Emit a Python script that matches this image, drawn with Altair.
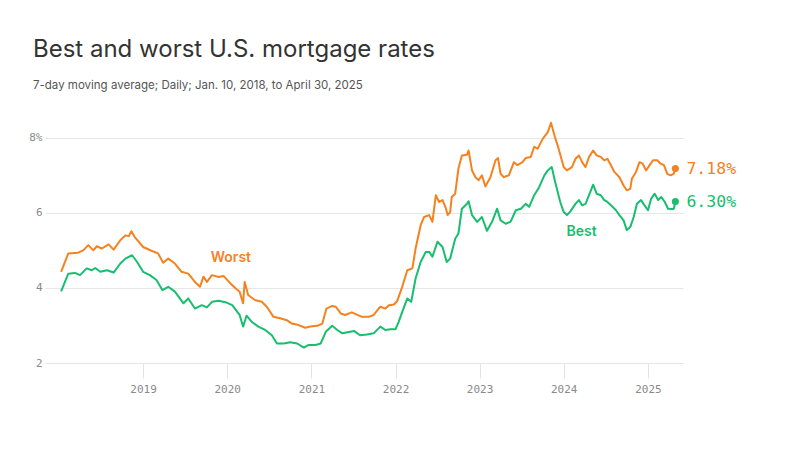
import altair as alt
import pandas as pd

# Worst (highest) 30-year mortgage rate, 7-day moving average, %
worst_dates = [
    "2018-01-10", "2018-02-10", "2018-03-25", "2018-04-16", "2018-05-08", "2018-05-30",
    "2018-06-14", "2018-07-06", "2018-08-04", "2018-08-26", "2018-09-24", "2018-10-16",
    "2018-10-31", "2018-11-11", "2018-11-25", "2019-01-01", "2019-02-06", "2019-03-07",
    "2019-03-29", "2019-04-20", "2019-05-19", "2019-06-17", "2019-07-16", "2019-08-14",
    "2019-09-05", "2019-09-20", "2019-10-05", "2019-10-27", "2019-11-25", "2019-12-16",
    "2020-01-15", "2020-02-06", "2020-02-24", "2020-03-10", "2020-03-17", "2020-04-01",
    "2020-04-30", "2020-05-30", "2020-06-21", "2020-07-20", "2020-08-18", "2020-09-16",
    "2020-10-08", "2020-11-06", "2020-12-05", "2020-12-27", "2021-01-26", "2021-02-17",
    "2021-03-07", "2021-04-01", "2021-04-16", "2021-05-08", "2021-05-27", "2021-06-25",
    "2021-07-17", "2021-08-08", "2021-09-06", "2021-09-28", "2021-10-27", "2021-11-18",
    "2021-12-03", "2021-12-25", "2022-01-08", "2022-01-30", "2022-02-21", "2022-03-15",
    "2022-03-29", "2022-04-20", "2022-05-05", "2022-05-27", "2022-06-10", "2022-06-25",
    "2022-07-09", "2022-07-24", "2022-08-08", "2022-08-15", "2022-08-26", "2022-09-02",
    "2022-09-17", "2022-10-01", "2022-10-16", "2022-11-07", "2022-11-14", "2022-11-29",
    "2022-12-14", "2022-12-28", "2023-01-11", "2023-01-26", "2023-02-17", "2023-03-11",
    "2023-03-22", "2023-04-02", "2023-04-16", "2023-05-08", "2023-05-30", "2023-06-14",
    "2023-07-06", "2023-07-20", "2023-08-11", "2023-08-26", "2023-09-10", "2023-10-02",
    "2023-10-24", "2023-11-07", "2023-11-22", "2023-12-10", "2024-01-01", "2024-01-15",
    "2024-02-06", "2024-02-21", "2024-03-07", "2024-03-21", "2024-04-05", "2024-04-20",
    "2024-05-08", "2024-05-23", "2024-06-10", "2024-06-25", "2024-07-09", "2024-07-24",
    "2024-08-08", "2024-08-30", "2024-09-17", "2024-10-01", "2024-10-16", "2024-10-23",
    "2024-11-10", "2024-11-25", "2024-12-09", "2024-12-24", "2025-01-08", "2025-01-23",
    "2025-02-10", "2025-02-25", "2025-03-11", "2025-03-26", "2025-04-09", "2025-04-23",
    "2025-04-30",
]
worst_values = [
    4.43, 4.92, 4.94, 5.00, 5.14, 5.00,
    5.11, 5.05, 5.16, 5.02, 5.27, 5.40,
    5.38, 5.51, 5.36, 5.09, 4.99, 4.92,
    4.67, 4.78, 4.65, 4.43, 4.38, 4.16,
    4.03, 4.30, 4.16, 4.34, 4.29, 4.32,
    4.12, 3.99, 3.90, 3.59, 4.16, 3.81,
    3.68, 3.63, 3.50, 3.23, 3.19, 3.14,
    3.05, 3.01, 2.94, 2.97, 2.99, 3.05,
    3.45, 3.52, 3.50, 3.32, 3.28, 3.35,
    3.29, 3.23, 3.23, 3.28, 3.50, 3.45,
    3.54, 3.56, 3.65, 4.03, 4.47, 4.52,
    5.05, 5.67, 5.89, 5.94, 5.76, 6.47,
    6.29, 6.34, 6.11, 5.94, 6.02, 6.42,
    6.51, 7.18, 7.53, 7.55, 7.66, 7.13,
    6.95, 6.87, 7.00, 6.70, 6.95, 7.40,
    7.46, 7.04, 6.95, 7.00, 7.35, 7.27,
    7.35, 7.46, 7.49, 7.76, 7.71, 7.97,
    8.15, 8.40, 8.06, 7.71, 7.22, 7.13,
    7.22, 7.44, 7.53, 7.35, 7.22, 7.49,
    7.66, 7.53, 7.49, 7.40, 7.44, 7.27,
    7.09, 6.95, 6.73, 6.60, 6.64, 6.91,
    7.09, 7.35, 7.31, 7.13, 7.27, 7.40,
    7.40, 7.31, 7.27, 7.04, 7.00, 7.04,
    7.18,
]

# Best (lowest) 30-year mortgage rate, 7-day moving average, %
best_dates = [
    "2018-01-10", "2018-02-10", "2018-03-11", "2018-04-02", "2018-05-01", "2018-05-23",
    "2018-06-07", "2018-06-29", "2018-07-28", "2018-08-26", "2018-09-24", "2018-10-16",
    "2018-11-14", "2018-12-06", "2019-01-01", "2019-01-30", "2019-02-28", "2019-03-26",
    "2019-04-20", "2019-05-19", "2019-06-25", "2019-07-16", "2019-08-14", "2019-09-13",
    "2019-10-05", "2019-10-27", "2019-11-25", "2019-12-24", "2020-01-23", "2020-02-14",
    "2020-02-24", "2020-03-10", "2020-03-25", "2020-04-16", "2020-05-15", "2020-06-14",
    "2020-07-13", "2020-08-04", "2020-09-02", "2020-10-01", "2020-10-31", "2020-11-29",
    "2020-12-20", "2021-01-19", "2021-02-10", "2021-03-04", "2021-04-01", "2021-04-23",
    "2021-05-15", "2021-06-06", "2021-07-06", "2021-07-31", "2021-08-30", "2021-09-28",
    "2021-10-27", "2021-11-18", "2021-12-10", "2022-01-01", "2022-01-15", "2022-01-30",
    "2022-02-21", "2022-03-10", "2022-03-29", "2022-04-20", "2022-05-12", "2022-05-27",
    "2022-06-10", "2022-07-02", "2022-07-24", "2022-08-11", "2022-08-26", "2022-09-17",
    "2022-10-01", "2022-10-16", "2022-11-07", "2022-11-14", "2022-11-29", "2022-12-21",
    "2023-01-11", "2023-02-02", "2023-02-24", "2023-03-18", "2023-04-02", "2023-04-24",
    "2023-05-15", "2023-06-07", "2023-06-29", "2023-07-20", "2023-08-04", "2023-08-26",
    "2023-09-17", "2023-10-09", "2023-10-24", "2023-11-10", "2023-11-25", "2023-12-17",
    "2024-01-01", "2024-01-15", "2024-01-30", "2024-02-21", "2024-03-07", "2024-03-21",
    "2024-04-05", "2024-04-20", "2024-05-08", "2024-05-23", "2024-06-10", "2024-06-25",
    "2024-07-09", "2024-07-31", "2024-08-15", "2024-08-30", "2024-09-17", "2024-10-01",
    "2024-10-16", "2024-10-31", "2024-11-14", "2024-12-02", "2024-12-17", "2025-01-01",
    "2025-01-15", "2025-01-30", "2025-02-14", "2025-02-28", "2025-03-15", "2025-03-29",
    "2025-04-16", "2025-04-23", "2025-04-30",
]
best_values = [
    3.91, 4.38, 4.40, 4.34, 4.52, 4.47,
    4.53, 4.43, 4.47, 4.41, 4.65, 4.78,
    4.87, 4.69, 4.43, 4.34, 4.21, 3.94,
    4.03, 3.90, 3.59, 3.72, 3.45, 3.54,
    3.48, 3.63, 3.66, 3.62, 3.54, 3.36,
    3.28, 2.97, 3.26, 3.10, 2.97, 2.88,
    2.74, 2.52, 2.52, 2.55, 2.52, 2.41,
    2.48, 2.48, 2.52, 2.83, 2.99, 2.88,
    2.79, 2.82, 2.85, 2.74, 2.76, 2.79,
    2.97, 2.88, 2.90, 2.90, 3.10, 3.36,
    3.72, 3.63, 4.25, 4.69, 4.96, 4.96,
    4.83, 5.23, 5.09, 4.69, 4.78, 5.31,
    5.45, 6.11, 6.24, 6.31, 5.94, 5.76,
    5.89, 5.52, 5.76, 6.11, 5.80, 5.71,
    5.76, 6.07, 6.11, 6.24, 6.16, 6.47,
    6.69, 7.00, 7.13, 7.22, 6.82, 6.29,
    6.02, 5.94, 6.04, 6.24, 6.34, 6.20,
    6.24, 6.47, 6.75, 6.51, 6.47, 6.34,
    6.29, 6.16, 6.07, 5.94, 5.80, 5.54,
    5.62, 5.89, 6.24, 6.34, 6.20, 6.07,
    6.38, 6.51, 6.34, 6.42, 6.29, 6.11,
    6.10, 6.11, 6.30,
]

series_names = ["Worst", "Best"]
series_colors = ["#F5821F", "#17BE6E"]
year_ticks = list(range(2019, 2026))
y_ticks = [2, 4, 6, 8]

rates = pd.concat(
    [
        pd.DataFrame({"date": worst_dates, "rate": worst_values, "series": "Worst"}),
        pd.DataFrame({"date": best_dates, "rate": best_values, "series": "Best"}),
    ],
    ignore_index=True,
)
latest = rates.groupby("series", as_index=False).last()

# Inline series labels, anchored in data space
inline_labels = pd.DataFrame(
    {
        "date": ["2020-01-17", "2024-03-19"],
        "rate": [4.79, 5.48],
        "series": ["Worst", "Best"],
    }
)

MONO = "DejaVu Sans Mono"
SANS = "Inter"

x_enc = alt.X(
    "date:T",
    scale=alt.Scale(
        domain=[
            alt.DateTime(year=2017, month=11, date=1),
            alt.DateTime(year=2025, month=6, date=2),
        ]
    ),
    axis=alt.Axis(
        values=[alt.DateTime(year=y, month=1, date=1) for y in year_ticks],
        format="%Y",
        title=None,
        domain=False,
        grid=False,
        ticks=True,
        tickSize=15,
        tickColor="#e3e3e3",
        labelFont=MONO,
        labelFontSize=11,
        labelColor="#8a8a8a",
        labelPadding=5,
    ),
)
y_enc = alt.Y(
    "rate:Q",
    scale=alt.Scale(domain=[2, 8.5], nice=False, zero=False),
    axis=alt.Axis(
        values=y_ticks,
        labelExpr="datum.value == 8 ? '8%' : datum.label",
        title=None,
        domain=False,
        ticks=False,
        grid=True,
        gridColor="#e6e6e6",
        labelFont=MONO,
        labelFontSize=11,
        labelColor="#8a8a8a",
        labelPadding=3,
    ),
)
color_enc = alt.Color(
    "series:N",
    scale=alt.Scale(domain=series_names, range=series_colors),
    legend=None,
)

base = alt.Chart(rates)

lines = base.mark_line(strokeWidth=2, strokeJoin="round").encode(
    x=x_enc, y=y_enc, color=color_enc, detail="series:N"
)

end_dots = alt.Chart(latest).mark_point(filled=True, size=50, opacity=1).encode(
    x="date:T", y="rate:Q", color=color_enc
)

end_text = (
    alt.Chart(latest)
    .transform_calculate(label="format(datum.rate, '.2f') + '%'")
    .mark_text(align="left", baseline="middle", dx=11, font=MONO, fontSize=16.5)
    .encode(x="date:T", y="rate:Q", text="label:N", color=color_enc)
)

name_text = (
    alt.Chart(inline_labels)
    .mark_text(align="center", baseline="middle", font=SANS, fontSize=14, fontWeight=600)
    .encode(x="date:T", y="rate:Q", text="series:N", color=color_enc)
)

chart = (
    alt.layer(lines, end_dots, end_text, name_text)
    .properties(
        width=638,
        height=244,
        background="white",
        autosize=alt.AutoSizeParams(type="none"),
        padding={"left": 45, "top": 119, "right": 117, "bottom": 87},
        title=alt.TitleParams(
            text="Best and worst U.S. mortgage rates",
            subtitle="7-day moving average; Daily; Jan. 10, 2018, to April 30, 2025",
            anchor="start",
            frame="group",
            dx=-12,
            offset=28,
            font=SANS,
            fontSize=24,
            fontWeight="normal",
            color="#333333",
            subtitleFont=SANS,
            subtitleFontSize=11.5,
            subtitleColor="#555555",
            subtitlePadding=18,
        ),
    )
    .configure_view(strokeWidth=0, stroke="transparent")
)

chart.save("out.html", embed_options={"renderer": "svg", "actions": False})
